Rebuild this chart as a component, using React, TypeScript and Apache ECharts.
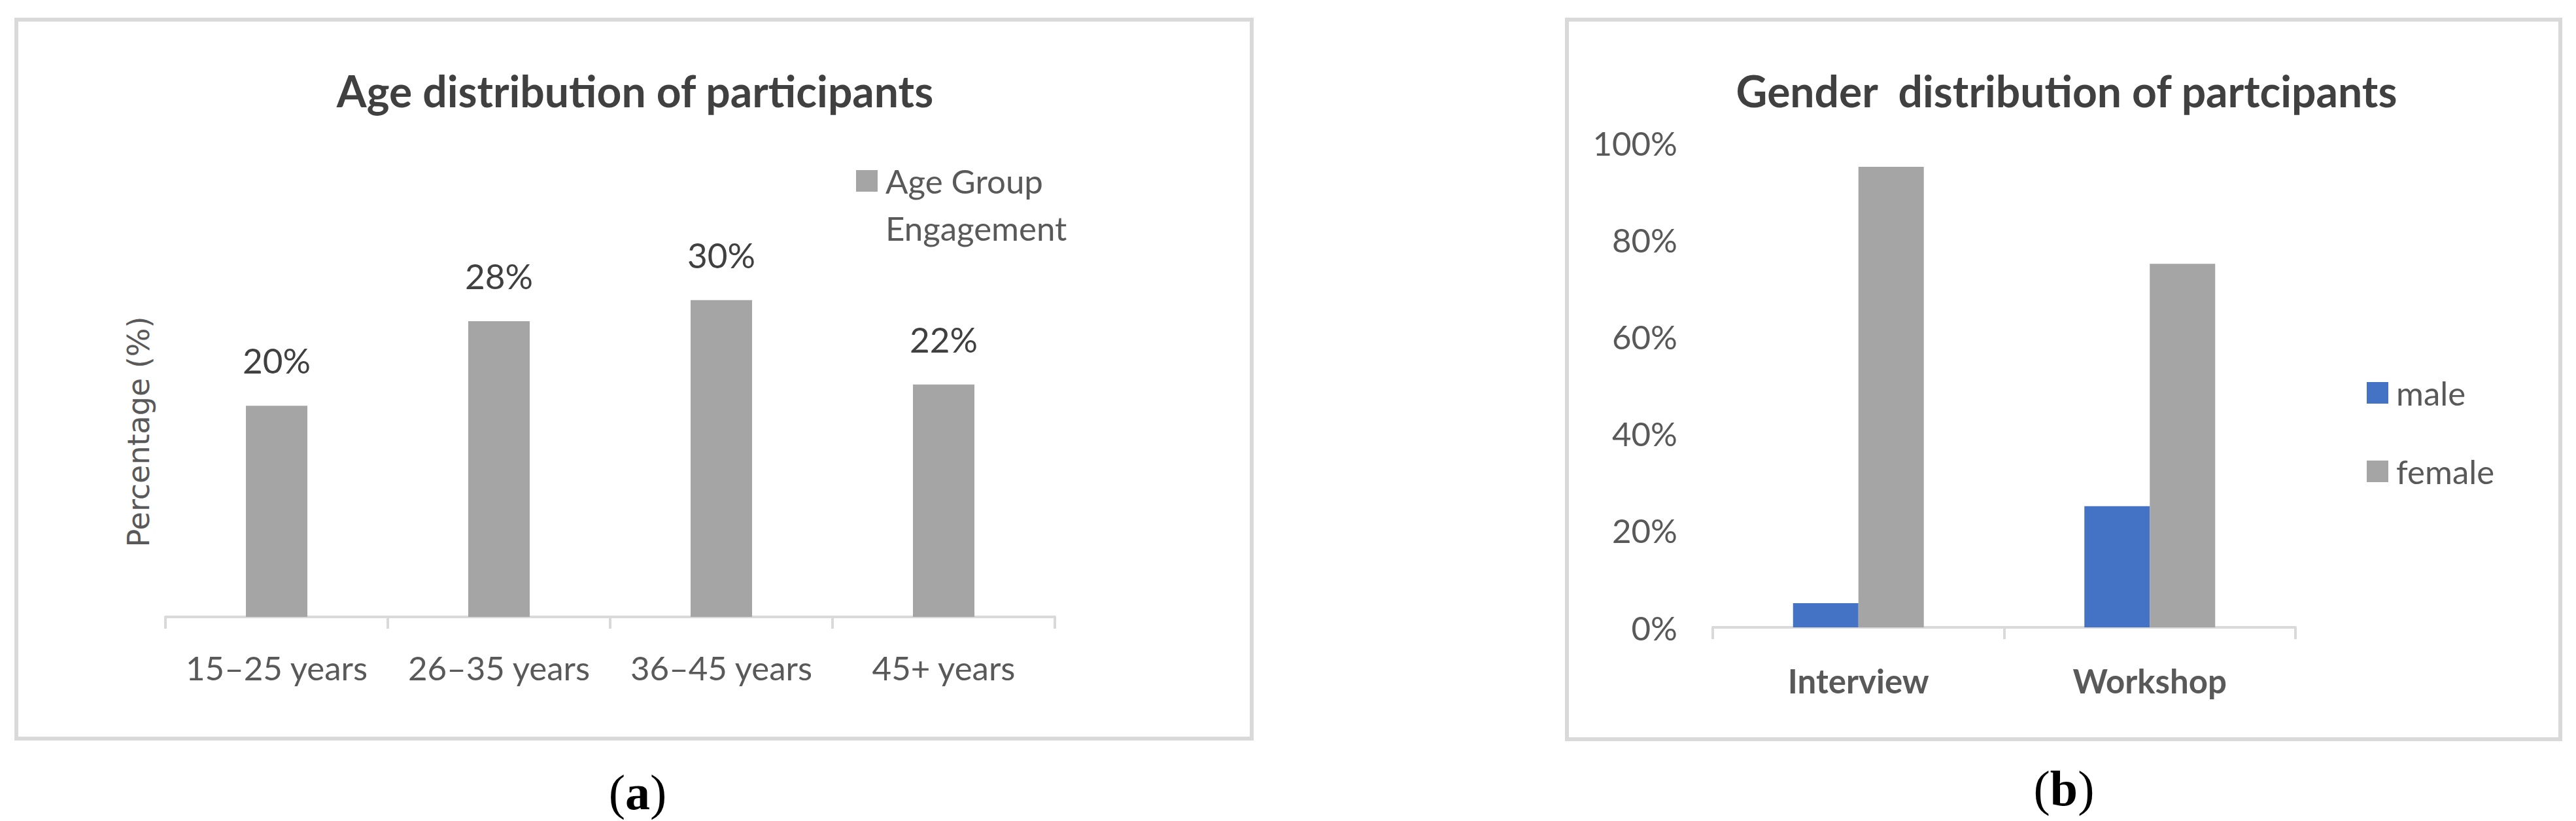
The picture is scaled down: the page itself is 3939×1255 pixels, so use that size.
import React, { useEffect, useRef } from 'react';
import * as echarts from 'echarts';

const ageCategories = ['15–25 years', '26–35 years', '36–45 years', '45+ years'];
const ageValues = [20, 28, 30, 22];
const ageSeriesName = 'Age Group Engagement';
const ageTitle = 'Age distribution of participants';
const ageAxisName = 'Percentage (%)';

const genderCategories = ['Interview', 'Workshop'];
const maleValues = [5, 25];
const femaleValues = [95, 75];
const genderTitle = 'Gender  distribution of partcipants';

export default function App() {
  const ref = useRef<HTMLDivElement>(null);
  useEffect(() => {
    const chart = echarts.init(ref.current!, null, { renderer: 'svg' });
    const F = 'Lato, "Open Sans", sans-serif';
    const serif = '"Liberation Serif", "DejaVu Serif", serif';
    chart.setOption({
      animation: false,
      backgroundColor: '#ffffff',
      title: [
        {
          text: ageTitle, left: 971, top: 102, textAlign: 'center', padding: 0,
          textStyle: { fontFamily: F, fontWeight: 'bold', fontSize: 66, color: '#404040', lineHeight: 72 },
        },
        {
          text: genderTitle, left: 3160, top: 102, textAlign: 'center', padding: 0,
          textStyle: { fontFamily: F, fontWeight: 'bold', fontSize: 66, color: '#404040', lineHeight: 72 },
        },
      ],
      legend: [
        {
          data: [ageSeriesName], orient: 'vertical', left: 1309, top: 168.5, padding: 0,
          itemWidth: 33, itemHeight: 33, icon: 'rect', selectedMode: false,
          formatter: (name: string) => '\n' + name.replace(' Engagement', '\nEngagement'),
          textStyle: { fontFamily: F, fontSize: 51, color: '#595959', lineHeight: 72, padding: [0, 0, 0, 7] },
        },
        {
          data: ['male', 'female'], orient: 'vertical', left: 3619, top: 574.5, padding: 0,
          itemWidth: 33, itemHeight: 33, itemGap: 68, icon: 'rect', selectedMode: false,
          textStyle: { fontFamily: F, fontSize: 51, color: '#595959', lineHeight: 52, padding: [0, 0, 0, 7] },
        },
      ],
      grid: [
        { left: 253, top: 378, width: 1360, height: 565 },
        { left: 2619, top: 218, width: 891, height: 741 },
      ],
      xAxis: [
        {
          type: 'category', gridIndex: 0, data: ageCategories,
          axisLine: { lineStyle: { color: '#D9D9D9', width: 4 } },
          axisTick: { show: true, interval: 0, length: 18, lineStyle: { color: '#D9D9D9', width: 4 } },
          axisLabel: { interval: 0, margin: 52, fontFamily: F, fontSize: 51, color: '#595959' },
        },
        {
          type: 'category', gridIndex: 1, data: genderCategories,
          axisLine: { lineStyle: { color: '#D9D9D9', width: 4 } },
          axisTick: { show: true, interval: 0, length: 18, lineStyle: { color: '#D9D9D9', width: 4 } },
          axisLabel: { interval: 0, margin: 56, fontFamily: F, fontSize: 51, fontWeight: 'bold', color: '#595959' },
        },
      ],
      yAxis: [
        { type: 'value', gridIndex: 0, min: 0, max: 35, show: false },
        {
          type: 'value', gridIndex: 1, min: 0, max: 100, interval: 20,
          axisLine: { show: false }, axisTick: { show: false }, splitLine: { show: false },
          axisLabel: { formatter: '{value}%', margin: 54, fontFamily: F, fontSize: 51, color: '#595959' },
        },
      ],
      series: [
        {
          name: ageSeriesName, type: 'bar', xAxisIndex: 0, yAxisIndex: 0, data: ageValues, barWidth: 94,
          itemStyle: { color: '#A5A5A5' },
          label: { show: true, position: 'top', distance: 43, formatter: '{c}%', fontFamily: F, fontSize: 53, color: '#404040' },
        },
        {
          name: 'male', type: 'bar', xAxisIndex: 1, yAxisIndex: 1, data: maleValues, barWidth: 100, barGap: '0%',
          itemStyle: { color: '#4472C4' },
        },
        {
          name: 'female', type: 'bar', xAxisIndex: 1, yAxisIndex: 1, data: femaleValues, barWidth: 100, barGap: '0%',
          itemStyle: { color: '#A5A5A5' },
        },
      ],
      graphic: [
        { type: 'rect', silent: true, shape: { x: 25, y: 30, width: 1889, height: 1099 }, style: { fill: 'none', stroke: '#D9D9D9', lineWidth: 6 } },
        { type: 'rect', silent: true, shape: { x: 2396, y: 30, width: 1519, height: 1100 }, style: { fill: 'none', stroke: '#D9D9D9', lineWidth: 6 } },
        {
          type: 'text', x: 212, y: 660, rotation: Math.PI / 2,
          style: { text: ageAxisName, fontFamily: '"DejaVu Sans", sans-serif', fontSize: 46, fill: '#595959', align: 'center', verticalAlign: 'middle' },
        },
        {
          type: 'text', x: 975, y: 1211,
          style: {
            text: '{p|(}{b|a}{p|)}', align: 'center', verticalAlign: 'middle',
            rich: {
              p: { fontFamily: serif, fontSize: 76, fill: '#000000' },
              b: { fontFamily: serif, fontSize: 76, fontWeight: 'bold', fill: '#000000' },
            },
          },
        },
        {
          type: 'text', x: 3156, y: 1205,
          style: {
            text: '{p|(}{b|b}{p|)}', align: 'center', verticalAlign: 'middle',
            rich: {
              p: { fontFamily: serif, fontSize: 76, fill: '#000000' },
              b: { fontFamily: serif, fontSize: 76, fontWeight: 'bold', fill: '#000000' },
            },
          },
        },
      ],
    });
    return () => chart.dispose();
  }, []);
  return (
    <div
      ref={ref}
      style={{ position: 'absolute', left: 0, top: 0, width: 3939, height: 1255, background: '#ffffff' }}
    />
  );
}
